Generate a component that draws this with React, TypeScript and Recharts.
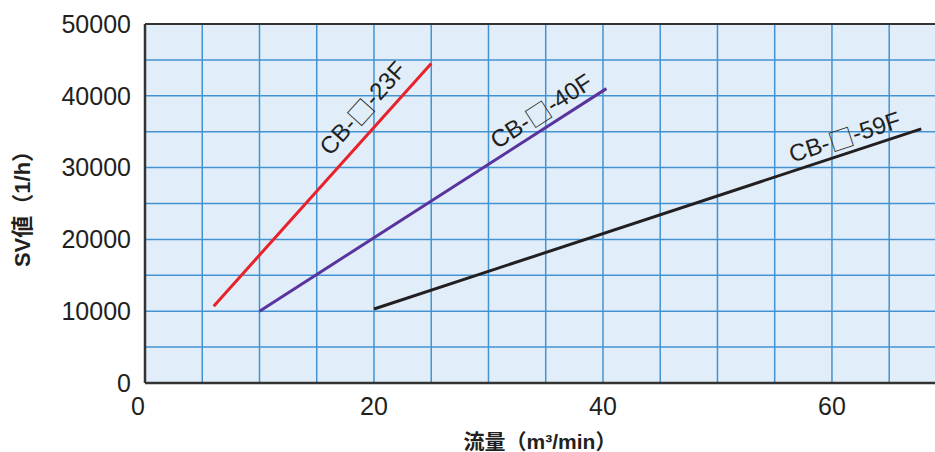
import {
  LineChart,
  Line,
  XAxis,
  YAxis,
  CartesianGrid,
  ReferenceLine,
  ReferenceDot,
} from "recharts";

// 流量 (m3/min) と SV値 (1/h) の読み取り値
const flow23F = [6, 25];
const sv23F = [10700, 44500];
const flow40F = [10, 40.3];
const sv40F = [10000, 41000];
const flow59F = [20, 67.8];
const sv59F = [10300, 35400];

const xTicks = [0, 20, 40, 60];
const yTicks = [0, 10000, 20000, 30000, 40000, 50000];
const xGrid = [5, 10, 15, 20, 25, 30, 35, 40, 45, 50, 55, 60, 65];
const yGrid = [5000, 10000, 15000, 20000, 25000, 30000, 35000, 40000, 45000];

const toRows = (xs: number[], ys: number[]) => xs.map((x, i) => ({ x, y: ys[i] }));

const series = [
  { name: "23F", data: toRows(flow23F, sv23F), color: "#e8212b" },
  { name: "40F", data: toRows(flow40F, sv40F), color: "#5a349e" },
  { name: "59F", data: toRows(flow59F, sv59F), color: "#231f20" },
];

// ラベル位置（データ座標）と角度
const labelSpots = [
  { suffix: "23F", x: 19.0, y: 38300, angle: -48 },
  { suffix: "40F", x: 34.6, y: 37900, angle: -33 },
  { suffix: "59F", x: 61.1, y: 34300, angle: -18 },
];

const FONT = "'Liberation Sans', Arial, 'Noto Sans CJK JP', sans-serif";
const INK = "#231f20";

function XTick({ x, y, payload }: any) {
  const shift = payload.value === 0 ? -7 : 0;
  return (
    <text
      x={x + shift}
      y={y}
      dy="0.71em"
      textAnchor="middle"
      fontSize={25}
      fontFamily={FONT}
      fill={INK}
    >
      {payload.value}
    </text>
  );
}

export default function App() {
  return (
    <div style={{ position: "absolute", left: 0, top: 0, width: 935, height: 452 }}>
      <LineChart
        width={935}
        height={452}
        margin={{ top: 24, right: 0, bottom: 0, left: 0 }}
      >
        <CartesianGrid
          fill="#e1eef9"
          stroke="#4393d2"
          strokeWidth={1.5}
          horizontalValues={yGrid}
          verticalValues={xGrid}
        />
        <XAxis
          type="number"
          dataKey="x"
          domain={[0, 69]}
          ticks={xTicks}
          interval={0}
          allowDataOverflow
          height={69}
          tickSize={0}
          tickMargin={14}
          tick={<XTick />}
          axisLine={{ stroke: "#333", strokeWidth: 2.5 }}
          label={{
            value: "流量（m³/min）",
            position: "insideBottom",
            offset: 3,
            style: { fontSize: 21, fontWeight: 700, fill: INK, fontFamily: FONT },
          }}
        />
        <YAxis
          type="number"
          dataKey="y"
          domain={[0, 50000]}
          ticks={yTicks}
          interval={0}
          allowDataOverflow
          width={145}
          tickSize={0}
          tickMargin={14}
          tick={{ fontSize: 25, fill: INK, fontFamily: FONT }}
          axisLine={{ stroke: "#333", strokeWidth: 2.5 }}
          label={{
            value: "SV値（1/h）",
            angle: -90,
            position: "insideLeft",
            offset: 22,
            style: {
              textAnchor: "middle",
              fontSize: 22,
              fontWeight: 700,
              fill: INK,
              fontFamily: FONT,
            },
          }}
        />
        <ReferenceLine y={50000} stroke="#333" strokeWidth={2} />
        {series.map((s) => (
          <Line
            key={s.name}
            data={s.data}
            dataKey="y"
            type="linear"
            stroke={s.color}
            strokeWidth={3}
            dot={false}
            activeDot={false}
            isAnimationActive={false}
          />
        ))}
        {labelSpots.map((l) => (
          <ReferenceDot
            key={l.suffix}
            x={l.x}
            y={l.y}
            r={0}
            shape={(p: any) => (
              <text
                x={p.cx}
                y={p.cy}
                textAnchor="middle"
                dominantBaseline="central"
                fontSize={24}
                fontFamily={FONT}
                fill={INK}
                transform={`rotate(${l.angle} ${p.cx} ${p.cy})`}
              >
                CB-
                <tspan fontFamily="'Noto Sans CJK JP'" fontSize={25} fontWeight={200}>
                  □
                </tspan>
                -{l.suffix}
              </text>
            )}
          />
        ))}
      </LineChart>
    </div>
  );
}
